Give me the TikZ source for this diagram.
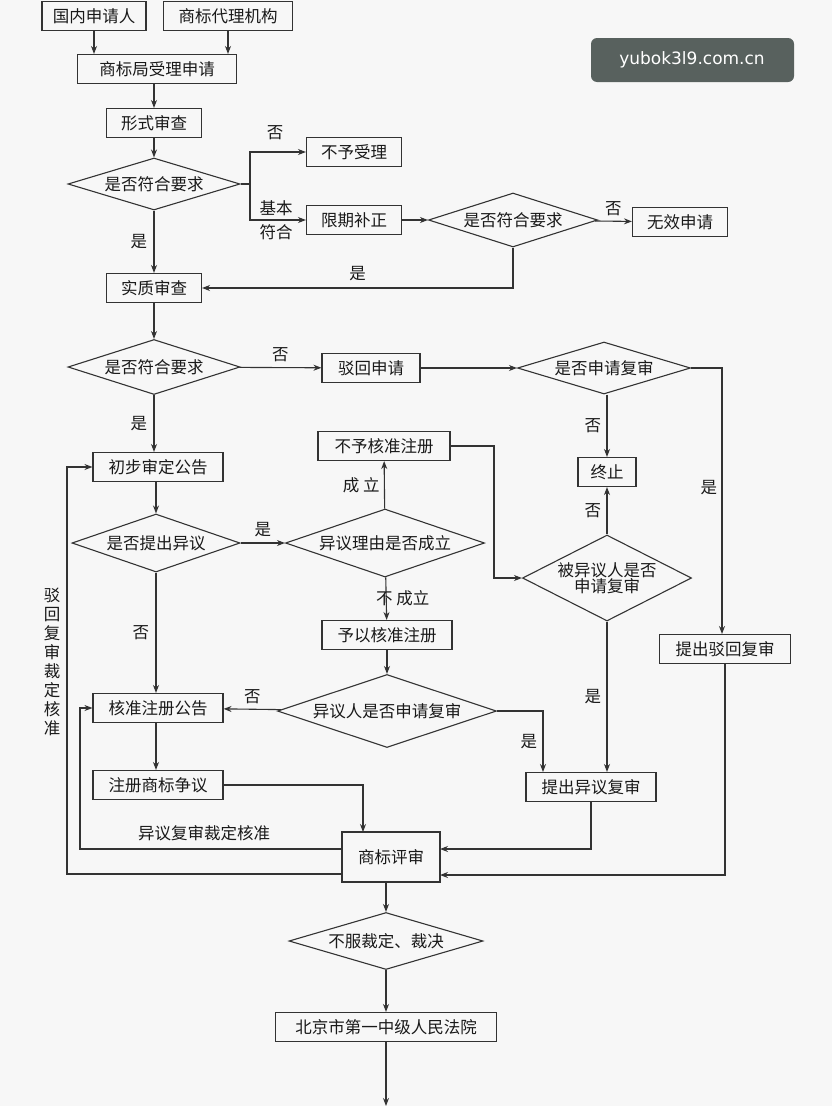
\documentclass[tikz,border=0pt]{standalone}
\usepackage{fontspec}
\setmainfont{Noto Sans CJK SC}
\setsansfont{DejaVu Sans}
\usetikzlibrary{shapes.geometric,arrows.meta}
\begin{document}
\begin{tikzpicture}[x=1pt,y=-1pt,
  every node/.style={font=\fontsize{16.5}{18}\selectfont, text=black!90},
  box/.style={draw=black!80, line width=1.1pt, inner sep=0pt},
  dia/.style={draw=black!80, line width=1.1pt, diamond, inner sep=0pt},
  lab/.style={font=\fontsize{16.5}{18}\selectfont},
  ar/.style={draw=black!80, line width=1.1pt, -{Stealth[length=8pt,width=6pt]}}]
\fill[black!3] (0,0) rectangle (832,1106);
\useasboundingbox (0,0) rectangle (832,1106);
\newcommand{\bx}[4]{\node[box, minimum width=#3, minimum height=29] (#1) at #2 {#4};}
\newcommand{\dm}[5]{\node[dia, minimum width=#3, minimum height=#4] (#1) at #2 {};
  \node[align=center] at #2 {#5};}
% watermark
\fill[rounded corners=6pt, fill={rgb,255:red,88;green,97;blue,94}] (591,38) rectangle (794,82);
\node[font=\fontsize{17}{19}\sffamily, text=white] (wm) at (692,60) {yubok3l9.com.cn};
% nodes
\bx{A}{(94,16)}{104}{国内申请人}
\bx{B}{(228,16)}{129}{商标代理机构}
\bx{C}{(157,69)}{159}{商标局受理申请}
\bx{D}{(154,123)}{95}{形式审查}
\dm{E}{(154,184)}{172}{52}{是否符合要求}
\bx{F}{(354,152)}{95}{不予受理}
\bx{G}{(354,220)}{95}{限期补正}
\dm{H}{(513,220)}{169}{54}{是否符合要求}
\bx{I}{(680,222)}{95}{无效申请}
\bx{J}{(154,288)}{95}{实质审查}
\dm{K}{(154,367)}{172}{55}{是否符合要求}
\bx{L}{(371,368)}{98}{驳回申请}
\dm{M}{(604,368)}{173}{52}{是否申请复审}
\bx{N}{(607,472)}{58}{终止}
\bx{O}{(158,467)}{130}{初步审定公告}
\bx{P}{(384,446)}{132}{不予核准注册}
\dm{Q}{(156,543)}{168}{58}{是否提出异议}
\dm{R}{(385,543)}{199}{68}{异议理由是否成立}
\dm{S}{(607,578)}{169}{86}{被异议人是否\\[-2pt]申请复审}
\bx{T}{(387,635)}{130}{予以核准注册}
\bx{U}{(725,649)}{131}{提出驳回复审}
\dm{V}{(387,711)}{219}{73}{异议人是否申请复审}
\bx{W}{(158,708)}{130}{核准注册公告}
\bx{X}{(158,785)}{130}{注册商标争议}
\bx{Y}{(591,787)}{130}{提出异议复审}
\node[box, minimum width=98, minimum height=50] (Z) at (391,857) {商标评审};
\dm{AA}{(386,941)}{194}{57}{不服裁定、裁决}
\bx{BB}{(386,1027)}{221}{北京市第一中级人民法院}
\coordinate (end) at (386,1106);
% connectors
\draw[ar] (A.south) -- (A.south |- C.north);
\draw[ar] (B.south) -- (B.south |- C.north);
\draw[ar] (154,83) -- (D.north);
\draw[ar] (D) -- (E);
\draw[ar] (E.east) -- (250,184) |- (F.west);
\draw[ar] (250,184) |- (G.west);
\node[lab] at (275,133) {否};
\node[lab] at (276,208) {基本};
\node[lab] at (276,232) {符合};
\draw[ar] (E) -- (J) node[lab, pos=0.5, left=3pt] {是};
\draw[ar] (G) -- (H);
\draw[ar] (H) -- (I) node[lab, midway, above=2pt] {否};
\draw[ar] (H.south) |- (J.east) node[lab, pos=0.75, above=3pt] {是};
\draw[ar] (J) -- (K);
\draw[ar] (K) -- (L) node[lab, midway, above=2pt] {否};
\draw[ar] (L) -- (M);
\draw[ar] (K.south) -- (K.south |- O.north) node[lab, midway, left=3pt] {是};
\draw[ar] (M.south -| N.north) -- (N.north) node[lab, midway, left=2pt] {否};
\draw[ar] (M.east) -- (722,368) -- (722,634) node[lab, pos=0.45, left=1pt] {是};
\draw[ar] (O.south -| Q.north) -- (Q.north);
\draw[ar] (Q) -- (R) node[lab, midway, above=2pt] {是};
\draw[ar] (Q.south) -- (Q.south |- W.north) node[lab, midway, left=3pt] {否};
\draw[ar] (R) -- (P) node[lab, midway, left=1pt] {成 立};
\draw[ar] (R) -- (T) node[lab, midway, right=-14pt] {不 成立};
\draw[ar] (P.east) -- (494,446) |- (S.west);
\draw[ar] (S.north -| N.south) -- (N.south) node[lab, midway, left=2pt] {否};
\draw[ar] (S.south) -- (S.south |- Y.north) node[lab, midway, left=2pt] {是};
\draw[ar] (T.south -| V.north) -- (V.north);
\draw[ar] (V) -- (W) node[lab, midway, above=2pt] {否};
\draw[ar] (V.east) -- (543,711) -- (543,772) node[lab, midway, left=2pt] {是};
\draw[ar] (W.south -| Q.south) -- (X.north -| Q.south);
\draw[ar] (X.east) -- (363,785) -- (363,832);
\draw[ar] (Y.south) -- (591,849) -- (440,849);
\draw[ar] (342,849) -- (80,849) -- (80,708) -- (W.west);
\node[lab] at (204,833) {异议复审裁定核准};
\draw[ar] (342,874) -- (67,874) -- (67,467) -- (O.west);
\node[lab, align=center, font=\fontsize{16.5}{19}\selectfont] at (52,662) {驳\\回\\复\\审\\裁\\定\\核\\准};
\draw[ar] (U.south) -- (725,875) -- (440,875);
\draw[ar] (Z.south -| AA.north) -- (AA.north);
\draw[ar] (AA) -- (BB);
\draw[ar] (BB) -- (end);
\end{tikzpicture}
\end{document}
